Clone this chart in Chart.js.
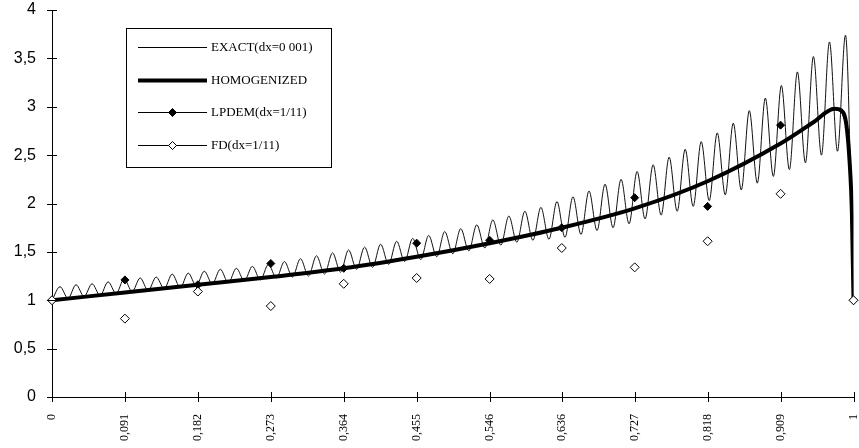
<!DOCTYPE html>
<html>
<head>
<meta charset="utf-8">
<script src="https://cdn.jsdelivr.net/npm/chart.js@4/dist/chart.umd.min.js"></script>
<style>
  html, body { margin: 0; padding: 0; background: #fff; }
</style>
</head>
<body>
<canvas id="chart" width="859" height="448"></canvas>
<script>
// tick positions / labels on the x axis (x = k/11)
const xTicks = [0, 0.091, 0.182, 0.273, 0.364, 0.455, 0.546, 0.636, 0.727, 0.818, 0.909, 1];
const xTickLabels = ['0', '0,091', '0,182', '0,273', '0,364', '0,455', '0,546', '0,636', '0,727', '0,818', '0,909', '1'];

// discrete solutions at the x ticks
const lpdemValues = [1.0, 1.21, 1.16, 1.38, 1.33, 1.59, 1.62, 1.75, 2.06, 1.97, 2.81, 1.0];
const fdValues = [1.0, 0.81, 1.09, 0.94, 1.17, 1.23, 1.22, 1.54, 1.34, 1.61, 2.10, 1.0];

// homogenized solution
const homX = [0, 0.091, 0.182, 0.273, 0.364, 0.455, 0.546, 0.636, 0.727, 0.818, 0.909, 0.95, 0.976, 0.985, 0.991, 0.995, 0.998, 1];
const homY = [1.0, 1.08, 1.16, 1.24, 1.33, 1.45, 1.59, 1.75, 1.95, 2.23, 2.62, 2.84, 2.98, 2.96, 2.82, 2.45, 1.9, 1.0];

// exact solution: one trough and one peak per cell (50 cells)
const exactTroughs = [
  1.00, 1.02, 1.04, 1.05, 1.07, 1.09, 1.10, 1.12, 1.13, 1.15,
  1.17, 1.18, 1.20, 1.21, 1.23, 1.24, 1.25, 1.27, 1.29, 1.32,
  1.34, 1.37, 1.40, 1.42, 1.45, 1.48, 1.51, 1.54, 1.57, 1.60,
  1.62, 1.63, 1.65, 1.68, 1.72, 1.75, 1.79, 1.84, 1.88, 1.92,
  1.97, 2.03, 2.09, 2.14, 2.21, 2.28, 2.35, 2.42, 2.50, 2.54,
  1.00
];
const exactPeaks = [
  1.14, 1.16, 1.17, 1.19, 1.22, 1.23, 1.24, 1.27, 1.28, 1.30,
  1.32, 1.33, 1.35, 1.37, 1.40, 1.43, 1.46, 1.49, 1.52, 1.55,
  1.58, 1.61, 1.64, 1.67, 1.71, 1.74, 1.78, 1.83, 1.87, 1.92,
  1.96, 2.02, 2.07, 2.13, 2.20, 2.25, 2.33, 2.40, 2.48, 2.56,
  2.64, 2.73, 2.83, 2.96, 3.09, 3.22, 3.36, 3.52, 3.67, 3.74
];

const yTicks = [0, 0.5, 1, 1.5, 2, 2.5, 3, 3.5, 4];

// build point lists
const exactPts = [];
const cells = exactPeaks.length;
exactPeaks.forEach((p, j) => {
  exactPts.push({ x: j / cells, y: exactTroughs[j] });
  exactPts.push({ x: (j + 0.5) / cells, y: p });
});
exactPts.push({ x: 1, y: exactTroughs[cells] });

const homPts = homX.map((x, i) => ({ x: x, y: homY[i] }));
const lpdemPts = xTicks.map((x, i) => ({ x: x, y: lpdemValues[i] }));
const fdPts = xTicks.map((x, i) => ({ x: x, y: fdValues[i] }));

function diamond(ctx, x, y, r, fill) {
  ctx.beginPath();
  ctx.moveTo(x, y - r);
  ctx.lineTo(x + r, y);
  ctx.lineTo(x, y + r);
  ctx.lineTo(x - r, y);
  ctx.closePath();
  ctx.fillStyle = fill;
  ctx.fill();
  ctx.lineWidth = 1;
  ctx.strokeStyle = '#000';
  ctx.stroke();
}

//tick marks crossing the axes
const axisTicks = {
  id: 'axisTicks',
  afterDatasetsDraw(chart) {
    const ctx = chart.ctx;
    const xs = chart.scales.x, ys = chart.scales.y;
    const x0 = xs.left, y0 = ys.bottom;
    ctx.save();
    ctx.strokeStyle = '#000';
    ctx.lineWidth = 1;
    ctx.beginPath();
    yTicks.forEach(v => {
      const py = Math.round(ys.getPixelForValue(v)) + 0.5;
      ctx.moveTo(x0 - 5, py);
      ctx.lineTo(x0 + 5, py);
    });
    xTicks.forEach(v => {
      const px = Math.round(xs.getPixelForValue(v)) + 0.5;
      ctx.moveTo(px, y0 - 5);
      ctx.lineTo(px, y0 + 5);
    });
    ctx.stroke();
    ctx.restore();
  }
};

//legend box inside the plot
const legendBox = {
  id: 'legendBox',
  afterDraw(chart) {
    const ctx = chart.ctx;
    ctx.save();
    ctx.fillStyle = '#fff';
    ctx.fillRect(126.5, 28.5, 205, 139);
    ctx.strokeStyle = '#000';
    ctx.lineWidth = 1;
    ctx.strokeRect(126.5, 28.5, 205, 139);
    const rows = [47, 80, 112, 145];
    ctx.font = '13px "Liberation Serif", "Times New Roman", serif';
    ctx.textBaseline = 'middle';
    chart.data.datasets.forEach((ds, i) => {
      const y = rows[i] + 0.5;
      ctx.beginPath();
      ctx.strokeStyle = '#000';
      ctx.lineWidth = ds.legendWidth;
      ctx.moveTo(138, y);
      ctx.lineTo(207, y);
      ctx.stroke();
      if (ds.legendMarker) diamond(ctx, 172.5, y, 4, ds.legendMarker);
      ctx.fillStyle = '#000';
      ctx.fillText(ds.label, 211, y);
    });
    ctx.restore();
  }
};

new Chart(document.getElementById('chart'), {
  type: 'scatter',
  data: {
    datasets: [
      {
        label: 'EXACT(dx=0 001)',
        data: exactPts,
        showLine: true,
        borderColor: '#111',
        borderWidth: 1,
        pointRadius: 0,
        cubicInterpolationMode: 'monotone',
        legendWidth: 1,
        order: 3
      },
      {
        label: 'HOMOGENIZED',
        data: homPts,
        showLine: true,
        borderColor: '#000',
        borderWidth: 4,
        pointRadius: 0,
        cubicInterpolationMode: 'monotone',
        legendWidth: 4,
        order: 2
      },
      {
        label: 'LPDEM(dx=1/11)',
        data: lpdemPts,
        showLine: false,
        pointStyle: 'rectRot',
        pointRadius: 4,
        backgroundColor: '#000',
        borderColor: '#000',
        borderWidth: 1,
        clip: false,
        legendWidth: 1,
        legendMarker: '#000',
        order: 1
      },
      {
        label: 'FD(dx=1/11)',
        data: fdPts,
        showLine: false,
        pointStyle: 'rectRot',
        pointRadius: 4.5,
        backgroundColor: '#fff',
        borderColor: '#000',
        borderWidth: 1,
        clip: false,
        legendWidth: 1,
        legendMarker: '#fff',
        order: 0
      }
    ]
  },
  options: {
    responsive: false,
    animation: false,
    layout: { padding: { top: 10, right: 5, left: 0, bottom: 0 } },
    plugins: {
      legend: { display: false },
      tooltip: { enabled: false }
    },
    scales: {
      x: {
        type: 'linear',
        min: 0,
        max: 1,
        afterBuildTicks: (scale) => { scale.ticks = xTicks.map(v => ({ value: v })); },
        afterFit: (scale) => {
          scale.height = 51;
          scale.paddingLeft = 0;
          scale.paddingRight = 0;
        },
        grid: { drawOnChartArea: false, drawTicks: false },
        border: { color: '#000', width: 1 },
        ticks: {
          autoSkip: false,
          minRotation: 90,
          maxRotation: 90,
          padding: 17,
          color: '#000',
          font: { family: '"Liberation Serif", "Times New Roman", serif', size: 12 },
          callback: (v, i) => xTickLabels[i]
        }
      },
      y: {
        min: 0,
        max: 4,
        afterBuildTicks: (scale) => { scale.ticks = yTicks.map(v => ({ value: v })); },
        afterFit: (scale) => {
          scale.width = 52;
          scale.paddingTop = 0;
          scale.paddingBottom = 0;
        },
        grid: { drawOnChartArea: false, drawTicks: false },
        border: { color: '#000', width: 1 },
        ticks: {
          padding: 16,
          color: '#000',
          font: { family: '"Liberation Sans", Arial, sans-serif', size: 16 },
          callback: (v) => String(v).replace('.', ',')
        }
      }
    }
  },
  plugins: [axisTicks, legendBox]
});
</script>
</body>
</html>
